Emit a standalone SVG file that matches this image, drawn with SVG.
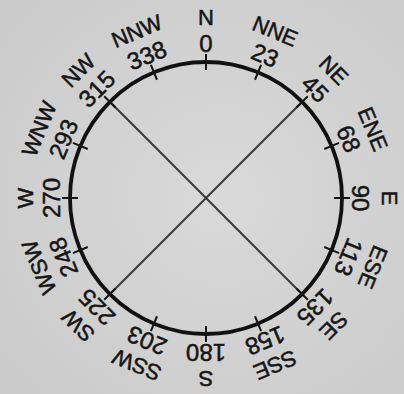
<svg xmlns="http://www.w3.org/2000/svg" width="404" height="394" viewBox="0 0 404 394">
  <style>
    .num { font-family: "Liberation Sans", Arial, sans-serif; font-size: 24px; fill: #151515; stroke: #151515; stroke-width: 0.5; text-anchor: middle; }
    .dir { font-family: "Liberation Sans", Arial, sans-serif; font-size: 22px; fill: #151515; stroke: #151515; stroke-width: 0.5; text-anchor: middle; }
    .tick { stroke: #151515; stroke-width: 2; }
    .ring { fill: none; stroke: #111; stroke-width: 3.8; }
    .diag { stroke: #3a3a3a; stroke-width: 2; }
  </style>
  <defs>
    <radialGradient id="paper" cx="0.55" cy="0.5" r="0.7">
      <stop offset="0" stop-color="#d9d9d9"/>
      <stop offset="1" stop-color="#cbcbcb"/>
    </radialGradient>
  </defs>
  <rect width="404" height="394" fill="url(#paper)"/>
  <circle class="ring" cx="206" cy="198" r="136"/>
  <g id="connectors">
    <line class="diag" x1="109.8" y1="101.8" x2="302.2" y2="294.2"/>
    <line class="diag" x1="302.2" y1="101.8" x2="109.8" y2="294.2"/>
  </g>
  <g id="n-N" transform="rotate(0 206 198)"><line class="tick" x1="206" y1="54" x2="206" y2="70"/><text class="num" x="206" y="52">0</text><text class="dir" x="206" y="25">N</text></g>
  <g id="n-NNE" transform="rotate(22.5 206 198)"><line class="tick" x1="206" y1="54" x2="206" y2="70"/><text class="num" x="206" y="52">23</text><text class="dir" x="206" y="25">NNE</text></g>
  <g id="n-NE" transform="rotate(45 206 198)"><line class="tick" x1="206" y1="54" x2="206" y2="70"/><text class="num" x="206" y="52">45</text><text class="dir" x="206" y="25">NE</text></g>
  <g id="n-ENE" transform="rotate(67.5 206 198)"><line class="tick" x1="206" y1="54" x2="206" y2="70"/><text class="num" x="206" y="52">68</text><text class="dir" x="206" y="25">ENE</text></g>
  <g id="n-E" transform="rotate(90 206 198)"><line class="tick" x1="206" y1="54" x2="206" y2="70"/><text class="num" x="206" y="52">90</text><text class="dir" x="206" y="22">E</text></g>
  <g id="n-ESE" transform="rotate(112.5 206 198)"><line class="tick" x1="206" y1="54" x2="206" y2="70"/><text class="num" x="206" y="52">113</text><text class="dir" x="206" y="25">ESE</text></g>
  <g id="n-SE" transform="rotate(135 206 198)"><line class="tick" x1="206" y1="54" x2="206" y2="70"/><text class="num" x="206" y="52">135</text><text class="dir" x="206" y="25">SE</text></g>
  <g id="n-SSE" transform="rotate(157.5 206 198)"><line class="tick" x1="206" y1="54" x2="206" y2="70"/><text class="num" x="206" y="52">158</text><text class="dir" x="206" y="25">SSE</text></g>
  <g id="n-S" transform="rotate(180 206 198)"><line class="tick" x1="206" y1="54" x2="206" y2="70"/><text class="num" x="206" y="52">180</text><text class="dir" x="206" y="25">S</text></g>
  <g id="n-SSW" transform="rotate(202.5 206 198)"><line class="tick" x1="206" y1="54" x2="206" y2="70"/><text class="num" x="206" y="52">203</text><text class="dir" x="206" y="25">SSW</text></g>
  <g id="n-SW" transform="rotate(225 206 198)"><line class="tick" x1="206" y1="54" x2="206" y2="70"/><text class="num" x="206" y="52">225</text><text class="dir" x="206" y="25">SW</text></g>
  <g id="n-WSW" transform="rotate(247.5 206 198)"><line class="tick" x1="206" y1="54" x2="206" y2="70"/><text class="num" x="206" y="52">248</text><text class="dir" x="206" y="25">WSW</text></g>
  <g id="n-W" transform="rotate(270 206 198)"><line class="tick" x1="206" y1="54" x2="206" y2="70"/><text class="num" x="206" y="52">270</text><text class="dir" x="206" y="25">W</text></g>
  <g id="n-WNW" transform="rotate(292.5 206 198)"><line class="tick" x1="206" y1="54" x2="206" y2="70"/><text class="num" x="206" y="52">293</text><text class="dir" x="206" y="25">WNW</text></g>
  <g id="n-NW" transform="rotate(315 206 198)"><line class="tick" x1="206" y1="54" x2="206" y2="70"/><text class="num" x="206" y="52">315</text><text class="dir" x="206" y="25">NW</text></g>
  <g id="n-NNW" transform="rotate(337.5 206 198)"><line class="tick" x1="206" y1="54" x2="206" y2="70"/><text class="num" x="206" y="52">338</text><text class="dir" x="206" y="25">NNW</text></g>
</svg>
